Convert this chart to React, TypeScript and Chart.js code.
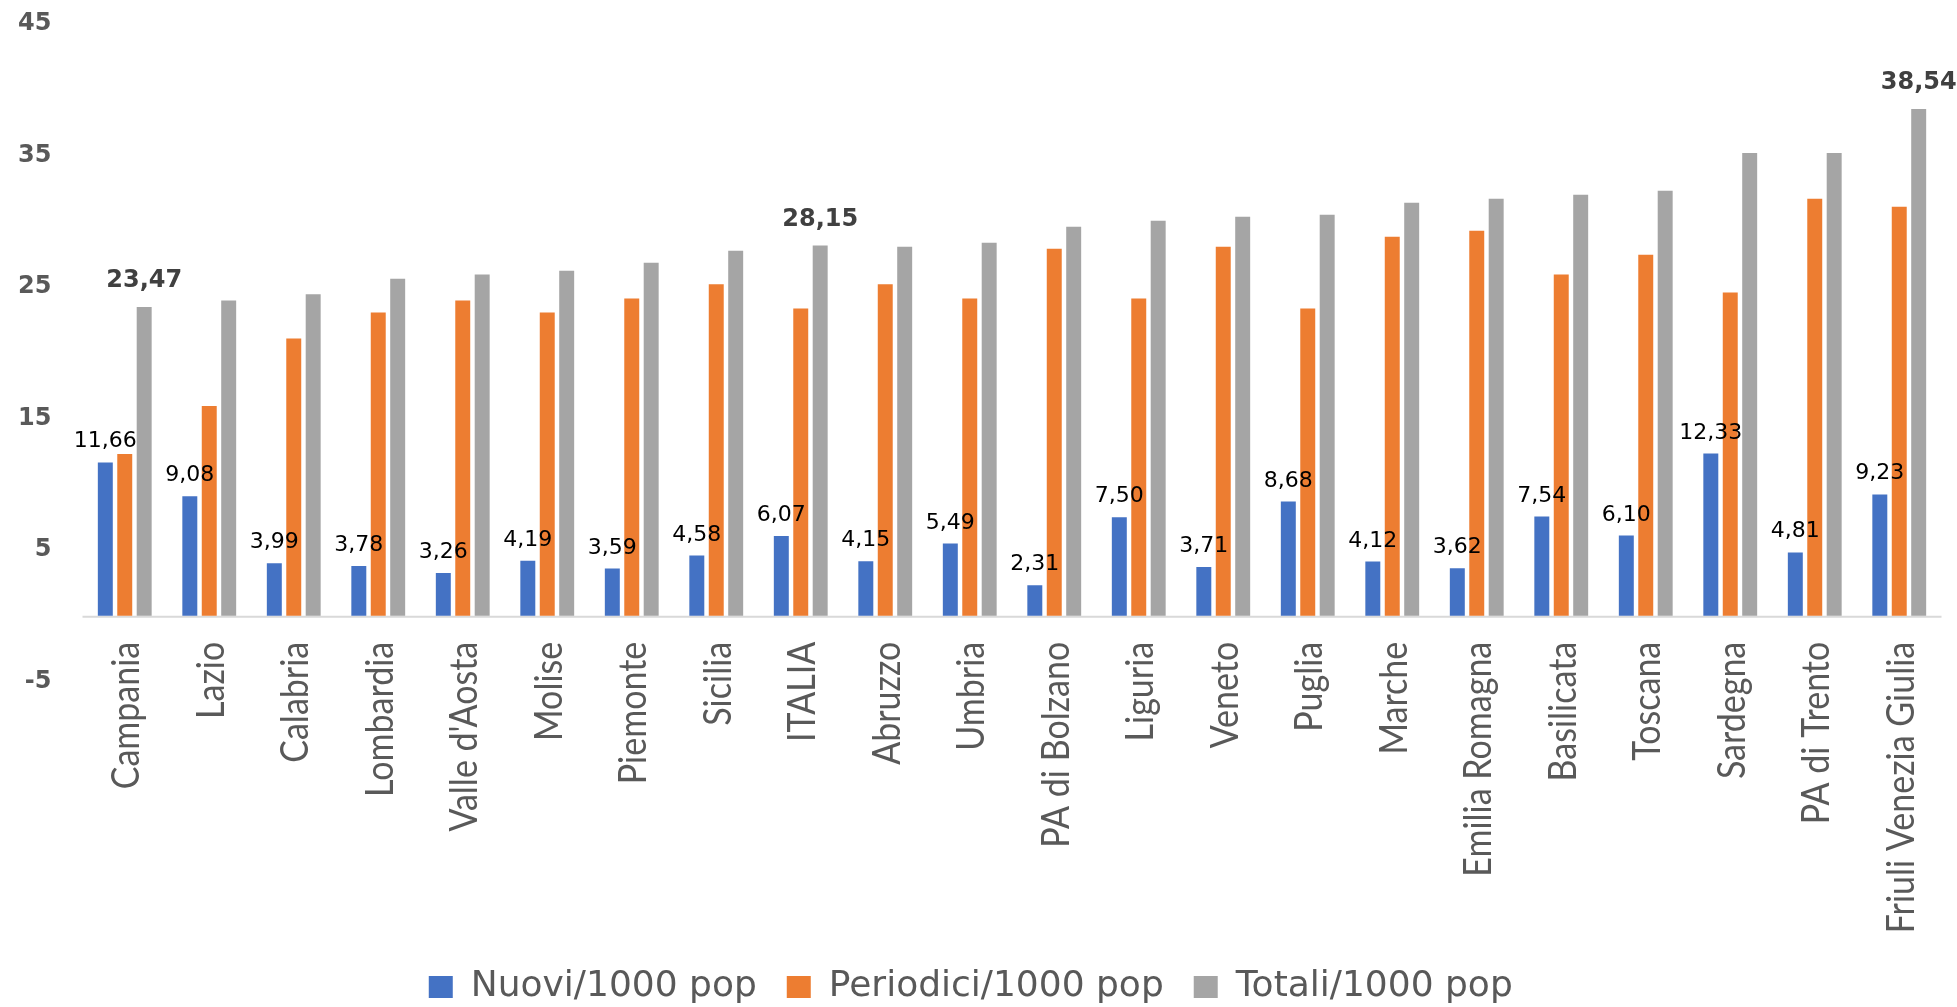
import React, { useEffect, useRef } from 'react';
import { Chart, registerables } from 'chart.js';

Chart.register(...registerables);

const categories = [
  'Campania', 'Lazio', 'Calabria', 'Lombardia', "Valle d'Aosta", 'Molise', 'Piemonte', 'Sicilia',
  'ITALIA', 'Abruzzo', 'Umbria', 'PA di Bolzano', 'Liguria', 'Veneto', 'Puglia', 'Marche',
  'Emilia Romagna', 'Basilicata', 'Toscana', 'Sardegna', 'PA di Trento', 'Friuli Venezia Giulia',
];
const nuovi = [11.66, 9.08, 3.99, 3.78, 3.26, 4.19, 3.59, 4.58, 6.07, 4.15, 5.49, 2.31, 7.5, 3.71, 8.68, 4.12, 3.62, 7.54, 6.1, 12.33, 4.81, 9.23];
const periodici = [12.3, 15.95, 21.09, 23.07, 23.98, 23.07, 24.13, 25.2, 23.37, 25.2, 24.13, 27.91, 24.13, 28.06, 23.37, 28.82, 29.28, 25.96, 27.45, 24.59, 31.71, 31.1];
const totali = [23.47, 23.98, 24.44, 25.63, 25.96, 26.24, 26.85, 27.76, 28.15, 28.06, 28.37, 29.58, 30.04, 30.34, 30.5, 31.41, 31.71, 32.02, 32.32, 35.19, 35.19, 38.54];
const seriesNames = ['Nuovi/1000 pop', 'Periodici/1000 pop', 'Totali/1000 pop'];
const seriesColors = ['#4472C4', '#ED7D31', '#A5A5A5'];
const highlightedTotals = ['Campania', 'ITALIA', 'Friuli Venezia Giulia'];
const yMin = -5;
const yMax = 45;
const yStep = 10;

const fmt = (v: number) => v.toFixed(2).replace('.', ',');

const customPlugin = {
  id: 'customLabels',
  beforeDatasetsDraw(chart: any) {
    const { ctx, chartArea } = chart;
    const y0 = chart.scales.y.getPixelForValue(0);
    ctx.save();
    ctx.strokeStyle = '#D9D9D9';
    ctx.lineWidth = 2;
    ctx.beginPath();
    ctx.moveTo(chartArea.left, y0 + 1);
    ctx.lineTo(chartArea.right, y0 + 1);
    ctx.stroke();
    ctx.restore();
  },
  afterDatasetsDraw(chart: any) {
    const { ctx } = chart;
    const xs = chart.scales.x;
    const ys = chart.scales.y;
    const y0 = ys.getPixelForValue(0);
    ctx.save();
    // category labels
    ctx.fillStyle = '#595959';
    ctx.font = '34px Lato';
    ctx.textAlign = 'right';
    ctx.textBaseline = 'middle';
    categories.forEach((c, i) => {
      const cx = xs.getPixelForValue(i) + 2;
      ctx.save();
      ctx.translate(cx, y0 + 26);
      ctx.rotate(-Math.PI / 2);
      ctx.scale(1, 1.15);
      ctx.fillText(c, 0, 0);
      ctx.restore();
    });
    // blue data labels
    const m0 = chart.getDatasetMeta(0);
    ctx.fillStyle = '#000000';
    ctx.font = '22px "DejaVu Sans"';
    ctx.textAlign = 'center';
    ctx.textBaseline = 'alphabetic';
    m0.data.forEach((el: any, i: number) => {
      ctx.fillText(fmt(nuovi[i]), el.x, el.y - 15);
    });
    // highlighted totals
    const m2 = chart.getDatasetMeta(2);
    ctx.fillStyle = '#404040';
    ctx.font = 'bold 24px "DejaVu Sans"';
    highlightedTotals.forEach((name) => {
      const i = categories.indexOf(name);
      const el = m2.data[i];
      ctx.fillText(fmt(totali[i]), el.x, el.y - 20);
    });
    ctx.restore();
  },
};

export default function App() {
  const ref = useRef<HTMLCanvasElement | null>(null);
  useEffect(() => {
    if (!ref.current) return;
    const seriesData = [nuovi, periodici, totali];
    const chart = new Chart(ref.current, {
      type: 'bar',
      data: {
        labels: categories,
        datasets: seriesNames.map((name, k) => ({
          label: name,
          data: seriesData[k],
          backgroundColor: seriesColors[k],
          borderWidth: 0,
          categoryPercentage: 0.69,
          barPercentage: 0.77,
        })),
      },
      options: {
        responsive: false,
        animation: false,
        devicePixelRatio: 1,
        layout: { padding: { top: 24, left: 0, right: 15.5, bottom: -8 } },
        plugins: {
          tooltip: { enabled: false },
          legend: {
            position: 'bottom',
            labels: {
              boxWidth: 24,
              boxHeight: 22,
              padding: 30,
              color: '#595959',
              font: { family: 'DejaVu Sans', size: 36 },
            },
          },
        },
        scales: {
          x: {
            grid: { display: false },
            border: { display: false },
            ticks: { display: false },
            afterFit: (s: any) => { s.height = 257.5; },
          },
          y: {
            min: yMin,
            max: yMax,
            ticks: {
              stepSize: yStep,
              padding: 31,
              color: '#595959',
              font: { family: 'DejaVu Sans', weight: 'bold', size: 24 },
            },
            grid: { display: false, drawTicks: false },
            border: { display: false },
            afterFit: (s: any) => {
              s.width = 82.5;
              s.paddingTop = 0;
              s.paddingBottom = 0;
            },
          },
        },
      },
      plugins: [customPlugin],
    } as any);
    return () => chart.destroy();
  }, []);
  return (
    <div style={{ position: 'fixed', left: 0, top: 0, width: 1957, height: 1007, background: '#ffffff' }}>
      <canvas ref={ref} width={1957} height={1007} style={{ display: 'block' }} />
    </div>
  );
}
